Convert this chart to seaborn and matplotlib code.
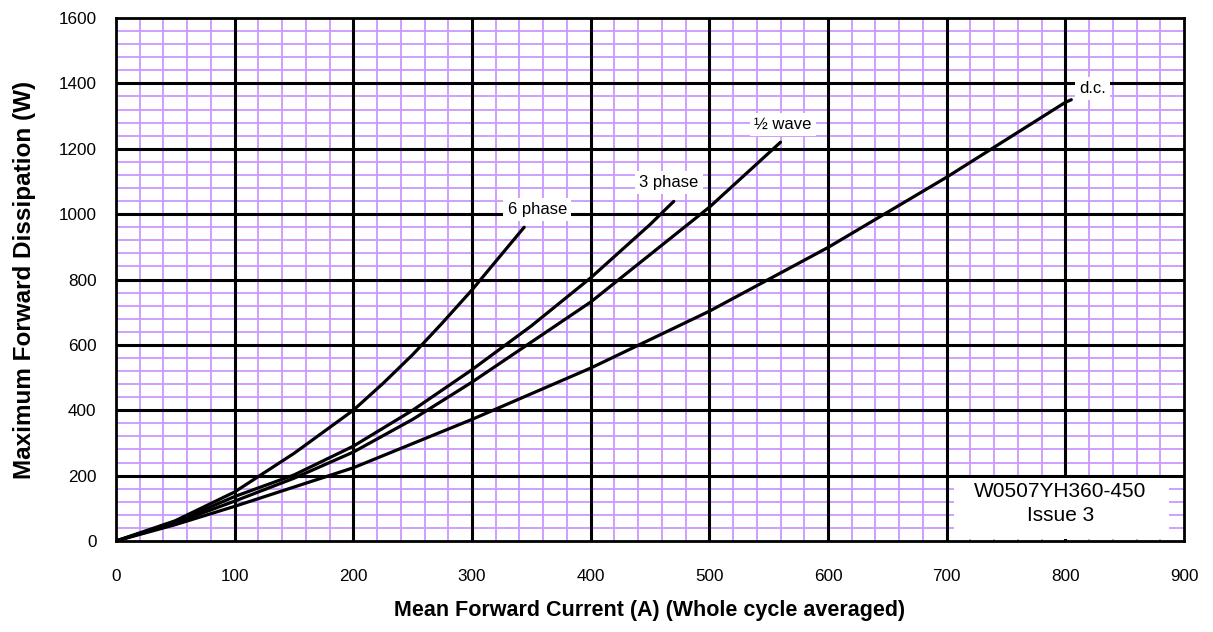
import matplotlib
matplotlib.use("Agg")
import matplotlib.pyplot as plt
import seaborn as sns
import pandas as pd
from matplotlib.ticker import MultipleLocator
from matplotlib.patches import Rectangle

# ---- data ----
x_6ph = [0, 50, 100, 150, 200, 225, 250, 275, 300, 344]
y_6ph = [0, 62, 150, 268, 400, 482, 570, 667, 768, 960]
x_3ph = [0, 50, 100, 150, 200, 250, 300, 350, 400, 450, 470]
y_3ph = [0, 58, 136, 202, 290, 400, 524, 658, 805, 968, 1039]
x_half = [0, 50, 100, 150, 200, 250, 300, 400, 500, 560]
y_half = [0, 55, 122, 192, 272, 372, 486, 731, 1021, 1220]
x_dc = [0, 50, 100, 150, 200, 300, 400, 500, 600, 700, 800, 805]
y_dc = [0, 50, 106, 165, 224, 372, 529, 703, 898, 1113, 1342, 1350]
series_names = ["6 phase", "3 phase", "\u00bd wave", "d.c."]
label_pos = [(355, 1014), (466, 1096), (562, 1274), (823, 1384)]

x_label = "Mean Forward Current (A) (Whole cycle averaged)"
y_label = "Maximum Forward Dissipation (W)"
note = "W0507YH360-450\nIssue 3"

frames = []
for name, xs, ys in zip(series_names, [x_6ph, x_3ph, x_half, x_dc], [y_6ph, y_3ph, y_half, y_dc]):
    frames.append(pd.DataFrame({"current": xs, "power": ys, "series": name}))
df = pd.concat(frames, ignore_index=True)

sns.set_style("white")
plt.rcParams["font.family"] = ["Liberation Sans", "DejaVu Sans"]
plt.rcParams["text.color"] = "black"
plt.rcParams["axes.labelcolor"] = "black"
plt.rcParams["xtick.color"] = "black"
plt.rcParams["ytick.color"] = "black"

fig = plt.figure(figsize=(12.13, 6.32), dpi=100)
ax = fig.add_axes([0.0956, 0.144, 0.8805, 0.8275])

sns.lineplot(data=df, x="current", y="power", units="series", estimator=None,
             color="black", lw=2.3, ax=ax, sort=False, zorder=5)

ax.set_xlim(0, 900)
ax.set_ylim(0, 1600)
ax.xaxis.set_major_locator(MultipleLocator(100))
ax.yaxis.set_major_locator(MultipleLocator(200))
ax.xaxis.set_minor_locator(MultipleLocator(20))
ax.yaxis.set_minor_locator(MultipleLocator(40))
ax.grid(which="minor", color="#cc99ff", lw=1.3)
ax.grid(which="major", visible=False)
ax.set_axisbelow(True)
for v in ax.get_xticks():
    if 0 < v < 900:
        ax.axvline(v, color="black", lw=2.2, zorder=2)
for v in ax.get_yticks():
    if 0 < v < 1600:
        ax.axhline(v, color="black", lw=2.2, zorder=2)

ax.tick_params(axis="both", which="major", length=5, width=1, color="#808080",
               direction="out", labelsize=12.3, labelcolor="black")
ax.tick_params(axis="x", which="major", pad=15)
ax.tick_params(axis="y", which="major", pad=9)
ax.tick_params(axis="both", which="minor", length=0)
for s in ax.spines.values():
    s.set_color("black")
    s.set_linewidth(2)
    s.set_zorder(8)

ax.set_xlabel(x_label, fontsize=15.5, fontweight="bold", labelpad=12, color="black")
ax.set_ylabel(y_label, fontsize=17.5, fontweight="bold", labelpad=16, color="black")

for name, (lx, ly) in zip(series_names, label_pos):
    ax.text(lx, ly, name, fontsize=12, ha="center", va="center", zorder=6, color="black",
            bbox=dict(facecolor="white", edgecolor="none", pad=3))

ax.add_patch(Rectangle((706, 6), 181, 188, facecolor="white", edgecolor="none", zorder=6))
ax.text(796, 114, note, fontsize=15, ha="center", va="center", zorder=7, color="black",
        linespacing=1.35)

fig.savefig("out.png", dpi=100)
